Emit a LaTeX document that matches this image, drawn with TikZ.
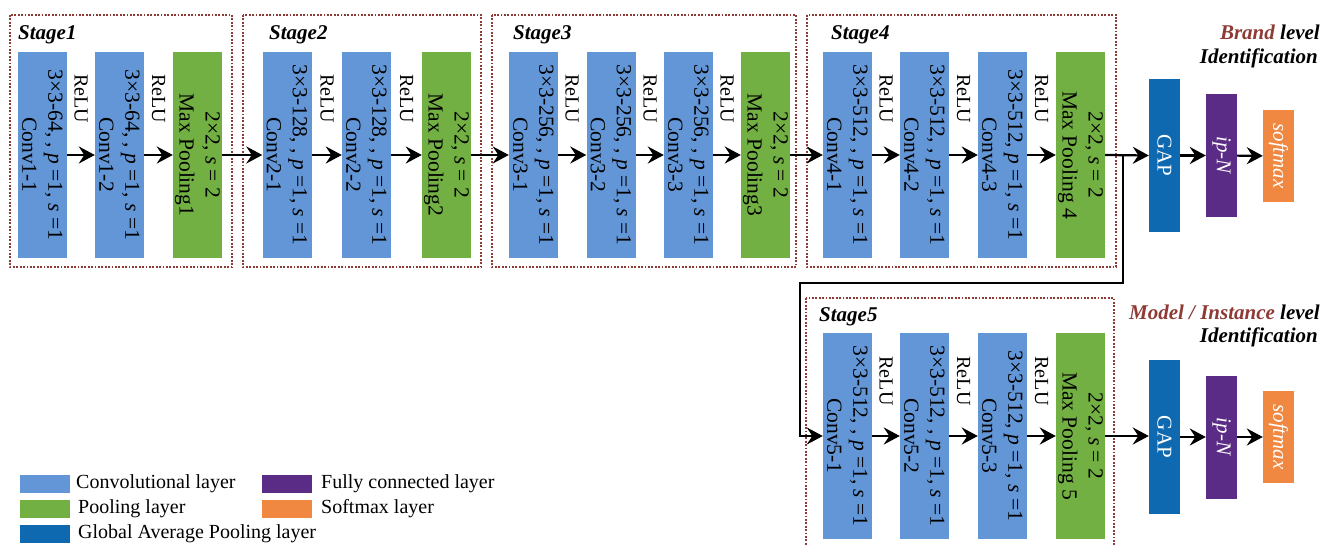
\documentclass[tikz,border=0pt]{standalone}
\usepackage{fontspec}
\setmainfont{Liberation Serif}
\usetikzlibrary{arrows.meta}
\definecolor{convblue}{HTML}{6396D6}
\definecolor{poolgreen}{HTML}{72B043}
\definecolor{gapblue}{HTML}{0E69B0}
\definecolor{fcpurple}{HTML}{5B2C86}
\definecolor{smorange}{HTML}{F08841}
\definecolor{framered}{HTML}{8E3B36}
\tikzset{
  layerbox/.style={draw=none, inner sep=0pt, minimum width=49pt, minimum height=206pt},
  conv/.style={layerbox, fill=convblue},
  pool/.style={layerbox, fill=poolgreen},
  headbox/.style={draw=none, inner sep=0pt, minimum width=31pt},
  gap/.style={headbox, fill=gapblue, minimum height=153pt},
  fc/.style={headbox, fill=fcpurple, minimum height=123pt},
  sm/.style={headbox, fill=smorange, minimum height=92pt},
  boxtxt/.style={rotate=-90, align=center, inner sep=0pt, font=\fontsize{21.5}{26}\selectfont},
  headtxt/.style={rotate=-90, inner sep=0pt, text=white, font=\fontsize{21}{25}\selectfont},
  relu/.style={rotate=-90, inner sep=0pt, font=\fontsize{20}{24}\selectfont},
  stagelbl/.style={anchor=west, inner sep=0pt, font=\fontsize{21}{24}\selectfont\bfseries\itshape},
  frame/.style={draw=framered, line width=1.8pt, dash pattern=on 1.8pt off 1.6pt},
  arr/.style={draw=black, line width=2.2pt, -{Stealth[length=16pt,width=17pt,inset=5.5pt]}},
  legbox/.style={draw=none, inner sep=0pt, minimum width=50pt, minimum height=18pt, anchor=west},
  legtxt/.style={anchor=west, inner sep=0pt, font=\fontsize{20}{24}\selectfont},
  idtxt/.style={anchor=east, inner sep=0pt, font=\fontsize{21}{24}\selectfont\bfseries\itshape},
}
\begin{document}
\begin{tikzpicture}[x=1pt,y=-1pt]
\useasboundingbox (0,0) rectangle (1323,545);

% stage frames
\draw[frame] (10,15) rectangle (232,267);
\draw[frame] (243,15) rectangle (481,267);
\draw[frame] (492,15) rectangle (796,267);
\draw[frame] (807,15) rectangle (1116,267);
\draw[frame] (806,298) rectangle (1114,560);

\node[stagelbl] (s1) at (18,35) {Stage1};
\node[stagelbl] (s2) at (269,35) {Stage2};
\node[stagelbl] (s3) at (513,35) {Stage3};
\node[stagelbl] (s4) at (831,35) {Stage4};
\node[stagelbl] (s5) at (819,317) {Stage5};

% Stage 1
\node[conv] (c11) at (42.5,155) {};
\node[boxtxt] (t11) at (c11) {3×3-64, , \textit{p} =1, \textit{s} =1\\Conv1-1};
\node[conv] (c12) at (119.5,155) {};
\node[boxtxt] (t12) at (c12) {3×3-64, , \textit{p} =1, \textit{s} =1\\Conv1-2};
\node[pool] (p1) at (197.5,155) {};
\node[boxtxt] (tp1) at (p1) {2×2, \textit{s} = 2\\Max Pooling1};
\node[relu] (r11) at (81,99) {ReLU};
\node[relu] (r12) at (158.5,99) {ReLU};

% Stage 2
\node[conv] (c21) at (287,155) {};
\node[boxtxt] (t21) at (c21) {3×3-128, , \textit{p} =1, \textit{s} =1\\Conv2-1};
\node[conv] (c22) at (366.5,155) {};
\node[boxtxt] (t22) at (c22) {3×3-128, , \textit{p} =1, \textit{s} =1\\Conv2-2};
\node[pool] (p2) at (446.5,155) {};
\node[boxtxt] (tp2) at (p2) {2×2, \textit{s} = 2\\Max Pooling2};
\node[relu] (r21) at (327,99) {ReLU};
\node[relu] (r22) at (406.5,99) {ReLU};

% Stage 3
\node[conv] (c31) at (533.5,155) {};
\node[boxtxt] (t31) at (c31) {3×3-256, , \textit{p} =1, \textit{s} =1\\Conv3-1};
\node[conv] (c32) at (611,155) {};
\node[boxtxt] (t32) at (c32) {3×3-256, , \textit{p} =1, \textit{s} =1\\Conv3-2};
\node[conv] (c33) at (688.5,155) {};
\node[boxtxt] (t33) at (c33) {3×3-256, , \textit{p} =1, \textit{s} =1\\Conv3-3};
\node[pool] (p3) at (765.5,155) {};
\node[boxtxt] (tp3) at (p3) {2×2, \textit{s} = 2\\Max Pooling3};
\node[relu] (r31) at (572,99) {ReLU};
\node[relu] (r32) at (650,99) {ReLU};
\node[relu] (r33) at (727,99) {ReLU};

% Stage 4
\node[conv] (c41) at (847.5,155) {};
\node[boxtxt] (t41) at (c41) {3×3-512, , \textit{p} =1, \textit{s} =1\\Conv4-1};
\node[conv] (c42) at (924.5,155) {};
\node[boxtxt] (t42) at (c42) {3×3-512, , \textit{p} =1, \textit{s} =1\\Conv4-2};
\node[conv] (c43) at (1002.5,155) {};
\node[boxtxt] (t43) at (c43) {3×3-512, \textit{p} =1, \textit{s} =1\\Conv4-3};
\node[pool] (p4) at (1080.5,155) {};
\node[boxtxt] (tp4) at (p4) {2×2, \textit{s} = 2\\Max Pooling 4};
\node[relu] (r41) at (886,99) {ReLU};
\node[relu] (r42) at (963.5,99) {ReLU};
\node[relu] (r43) at (1041.5,99) {ReLU};

% Stage 5
\node[conv] (c51) at (847.5,436) {};
\node[boxtxt] (t51) at (c51) {3×3-512, , \textit{p} =1, \textit{s} =1\\Conv5-1};
\node[conv] (c52) at (924.5,436) {};
\node[boxtxt] (t52) at (c52) {3×3-512, , \textit{p} =1, \textit{s} =1\\Conv5-2};
\node[conv] (c53) at (1002.5,436) {};
\node[boxtxt] (t53) at (c53) {3×3-512, \textit{p} =1, \textit{s} =1\\Conv5-3};
\node[pool] (p5) at (1080.5,436) {};
\node[boxtxt] (tp5) at (p5) {2×2, \textit{s} = 2\\Max Pooling 5};
\node[relu] (r51) at (886,381) {ReLU};
\node[relu] (r52) at (963.5,381) {ReLU};
\node[relu] (r53) at (1041.5,381) {ReLU};

% heads
\node[gap] (g1) at (1164.5,155.5) {};
\node[headtxt] (tg1) at (g1) {GAP};
\node[fc] (f1) at (1221.5,155.5) {};
\node[headtxt] (tf1) at (f1) {\textit{ip-N}};
\node[sm] (m1) at (1278.5,156) {};
\node[headtxt] (tm1) at (m1) {\textit{softmax}};

\node[gap] (g2) at (1164.5,437) {};
\node[headtxt] (tg2) at (g2) {GAP};
\node[fc] (f2) at (1221.5,437) {};
\node[headtxt] (tf2) at (f2) {\textit{ip-N}};
\node[sm] (m2) at (1278.5,437) {};
\node[headtxt] (tm2) at (m2) {\textit{softmax}};

\node[idtxt] (b1) at (1320,32) {\textcolor{framered}{Brand} level};
\node[idtxt] (b2) at (1318,58) {Identification};
\node[idtxt] (m1t) at (1320,312) {\textcolor{framered}{Model / Instance} level};
\node[idtxt] (m2t) at (1318,337) {Identification};

% connectors
\draw[arr] (c11) -- (c12);
\draw[arr] (c12) -- (p1);
\draw[arr] (p1) -- (c21);
\draw[arr] (c21) -- (c22);
\draw[arr] (c22) -- (p2);
\draw[arr] (p2) -- (c31);
\draw[arr] (c31) -- (c32);
\draw[arr] (c32) -- (c33);
\draw[arr] (c33) -- (p3);
\draw[arr] (p3) -- (c41);
\draw[arr] (c41) -- (c42);
\draw[arr] (c42) -- (c43);
\draw[arr] (c43) -- (p4);
\draw[arr] (p4.east) -- (g1.west);
\draw[arr] (g1) -- (f1);
\draw[arr] (f1) -- (m1);

\coordinate (j1) at (1123,155);
\coordinate (j2) at (1123,283);
\coordinate (j3) at (800,283);
\draw[arr] (j1) -- (j2) -- (j3) |- (c51);

\draw[arr] (c51) -- (c52);
\draw[arr] (c52) -- (c53);
\draw[arr] (c53) -- (p5);
\draw[arr] (p5.east) -- (g2.west |- p5.east);
\draw[arr] (g2) -- (f2);
\draw[arr] (f2) -- (m2);

% legend
\node[legbox, fill=convblue] (lc) at (20,484) {};
\node[legtxt] (lct) at (76,484) {Convolutional layer};
\node[legbox, fill=poolgreen] (lp) at (20,509) {};
\node[legtxt] (lpt) at (78,509) {Pooling layer};
\node[legbox, fill=gapblue] (lg) at (20,534) {};
\node[legtxt] (lgt) at (78,534) {Global Average Pooling layer};
\node[legbox, fill=fcpurple] (lf) at (262,484) {};
\node[legtxt] (lft) at (321,484) {Fully connected layer};
\node[legbox, fill=smorange] (ls) at (262,509) {};
\node[legtxt] (lst) at (321,509) {Softmax layer};
\end{tikzpicture}
\end{document}
